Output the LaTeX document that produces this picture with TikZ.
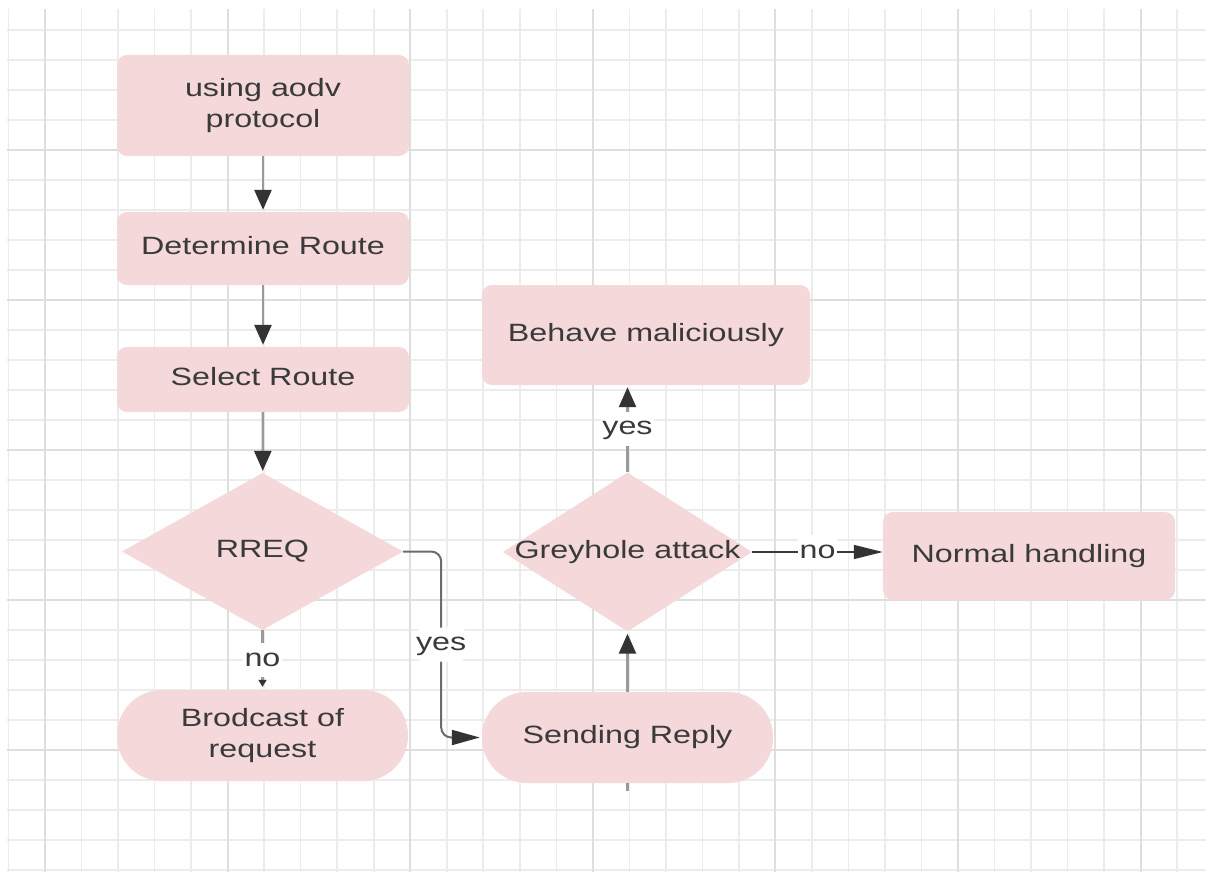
\documentclass[tikz,border=0pt]{standalone}
\usepackage{fontspec}
\setmainfont{Liberation Sans}
\usepackage{graphicx}
\usetikzlibrary{shapes.geometric,arrows.meta}

\definecolor{boxfill}{HTML}{F4D8DA}
\definecolor{txt}{HTML}{3A3A3A}
\definecolor{gridminor}{HTML}{ECECEC}
\definecolor{gridmajor}{HTML}{DEDEDE}
\definecolor{linegray}{HTML}{9A9A9A}
\definecolor{linedark}{HTML}{3A3A3A}
\definecolor{tipdark}{HTML}{333333}

% wide sans text, optionally on several lines
\newcommand\wtext[1]{\scalebox{1.29}[1]{\begin{tabular}{@{}c@{}}#1\end{tabular}}}

\begin{document}
\begin{tikzpicture}[x=1pt,y=-1pt,
  every node/.style={font=\fontsize{25}{31}\selectfont, text=txt},
  box/.style={draw=none, fill=boxfill, rounded corners=10pt, inner sep=0pt},
  pill/.style={draw=none, fill=boxfill, rounded corners=45pt, inner sep=0pt},
  decision/.style={diamond, draw=none, fill=boxfill, inner sep=0pt},
  lbl/.style={fill=white, inner sep=1.5pt},
  conn/.style={draw=linegray, line width=2.6pt,
    -{Triangle[length=20pt,width=17pt,color=tipdark]}, shorten >=2pt},
  connsmall/.style={draw=linegray, line width=2.6pt,
    -{Triangle[length=7pt,width=8pt,color=tipdark]}, shorten >=3pt},
  connbend/.style={draw=linegray!70!black, line width=2pt, rounded corners=10pt,
    -{Triangle[length=28pt,width=15pt,color=tipdark]}, shorten >=2pt},
  hconn/.style={draw=linedark, line width=1.6pt,
    -{Triangle[length=29pt,width=14pt,color=tipdark]}},
  plain/.style={draw=linegray, line width=2.6pt},
  gminor/.style={draw=gridminor, line width=1.6pt},
  gmajor/.style={draw=gridmajor, line width=2pt}
]
\useasboundingbox (0,0) rectangle (1206,872);
\fill[white] (0,0) rectangle (1206,872);

% background grid
\foreach \i in {0,...,32}
  \draw[gminor] ({8.5+36.52*\i},9) -- ({8.5+36.52*\i},872);
\foreach \j in {1,...,29}
  \draw[gminor] (7,{30*\j}) -- (1206,{30*\j});
\foreach \i in {1,6,...,31}
  \draw[gmajor] ({8.5+36.52*\i},9) -- ({8.5+36.52*\i},872);
\foreach \j in {5,10,...,25}
  \draw[gmajor] (7,{30*\j}) -- (1206,{30*\j});

% flowchart steps
\node[box, minimum width=292pt, minimum height=101pt] (aodv) at (263,105.5) {\wtext{using aodv\\protocol}};
\node[box, minimum width=292pt, minimum height=73pt] (det) at (263,248.5) {\wtext{Determine Route}};
\node[box, minimum width=292pt, minimum height=65pt] (sel) at (263,379.5) {\wtext{Select Route}};
\node[decision, minimum width=281pt, minimum height=157pt] (rreq) at (262.5,551.5) {\makebox[0pt]{\wtext{RREQ}}};
\node[pill, minimum width=291pt, minimum height=91pt] (brod) at (262.5,735.5) {\wtext{Brodcast of\\request}};
\node[pill, minimum width=291pt, minimum height=91pt] (reply) at (627.5,737.5) {\wtext{Sending Reply}};
\node[decision, minimum width=249pt, minimum height=159pt] (grey) at (627.5,552) {\makebox[0pt]{\wtext{Greyhole attack}}};
\node[box, minimum width=328pt, minimum height=100pt] (beh) at (646,335) {\wtext{Behave maliciously}};
\node[box, minimum width=292pt, minimum height=88pt] (norm) at (1029,556) {\wtext{Normal handling}};
\coordinate (stub) at (627.5,791);

% connectors
\draw[conn] (aodv) -- (det);
\draw[conn] (det) -- (sel);
\draw[conn] (sel) -- (rreq);
\draw[connsmall] (rreq) -- node[lbl] {\wtext{no}} (brod);
\draw[connbend] (rreq.east) -- ++(38,0) |- node[lbl, pos=0.25] {\wtext{yes}} (reply.west);
\draw[conn] (reply) -- (grey);
\draw[plain] (reply.south) -- (stub);
\draw[conn] (grey.north) -- node[lbl] {\wtext{yes}} (grey.north |- beh.south);
\draw[hconn] (grey.east) -- node[lbl] {\wtext{no}} (grey.east -| norm.west);
\end{tikzpicture}
\end{document}
